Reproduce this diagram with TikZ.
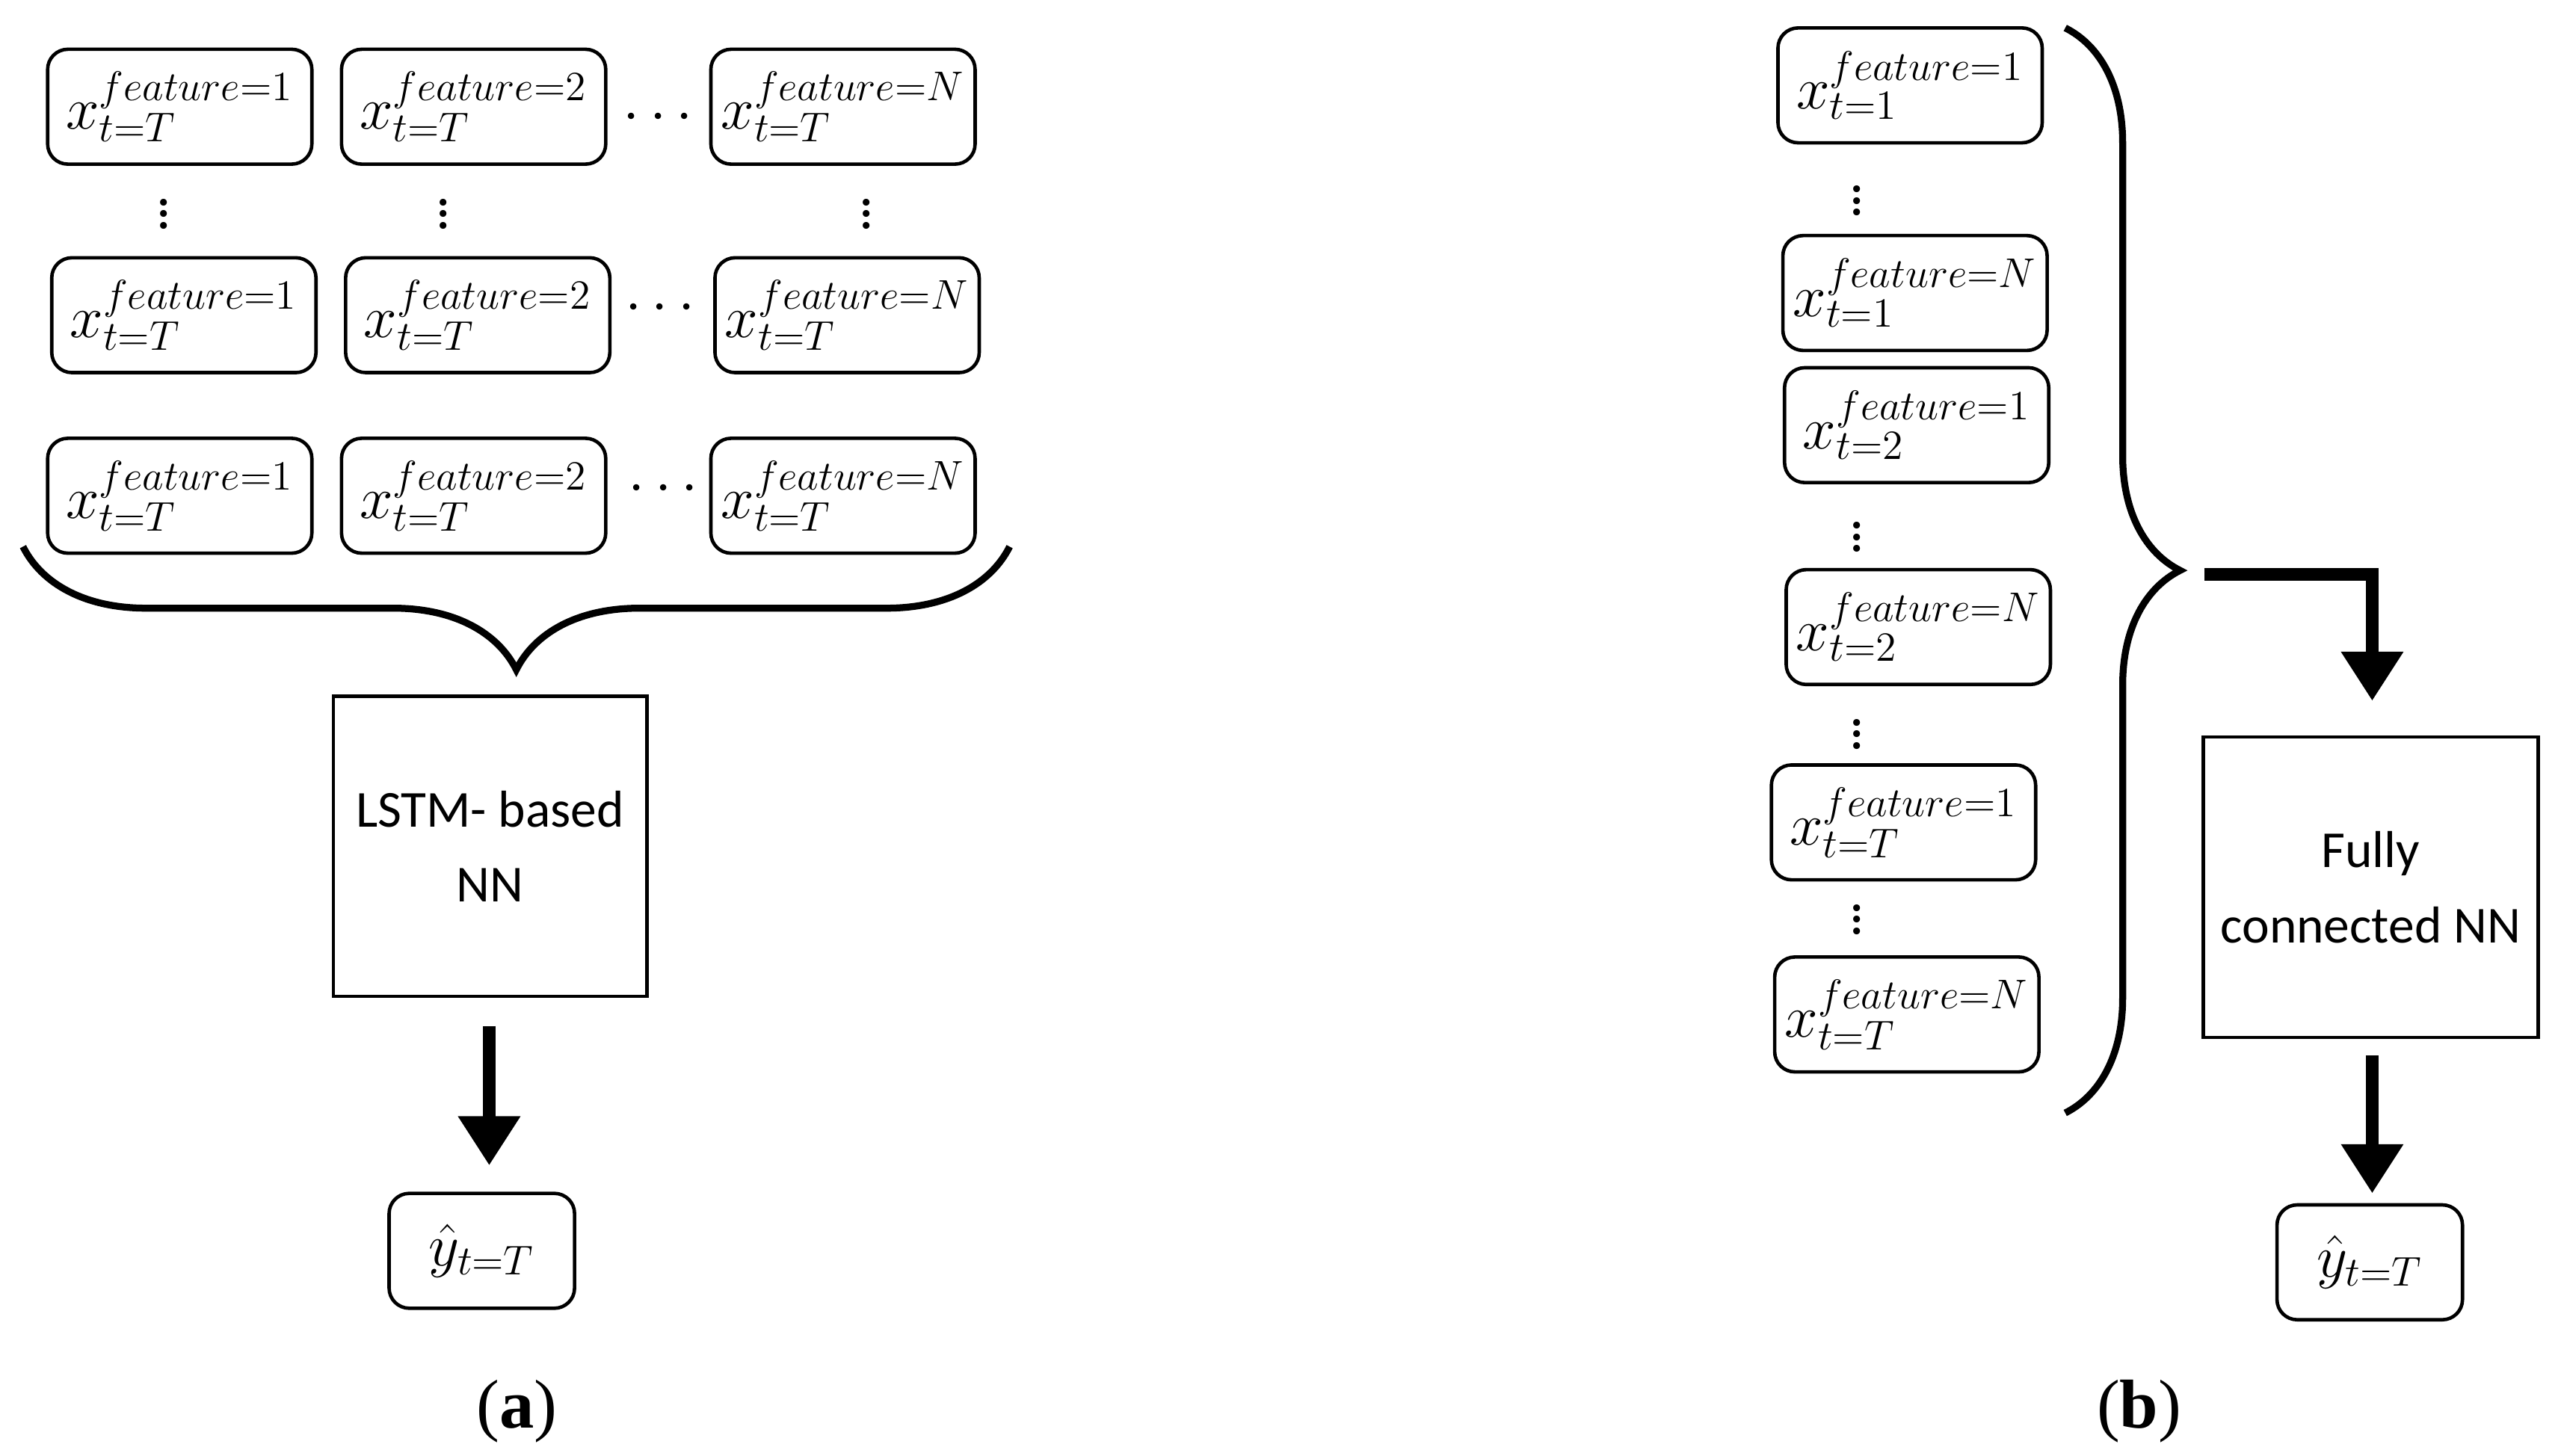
\documentclass[tikz,border=0pt]{standalone}
\usepackage{fontspec}
\setmainfont{Liberation Serif}
\newfontfamily\calfont{Carlito}
\usetikzlibrary{decorations.pathreplacing,arrows.meta}
\begin{document}
\begin{tikzpicture}[x=0.02cm,y=-0.02cm,
  fbox/.style={draw,line width=1.2pt,rounded corners=7pt,minimum width=3.22cm,minimum height=1.4cm,inner sep=0pt,font=\fontsize{20}{24}\selectfont},
  ybox/.style={draw,line width=1.2pt,rounded corners=7pt,minimum width=2.26cm,minimum height=1.4cm,inner sep=0pt,font=\fontsize{20}{24}\selectfont},
  nnbox/.style={draw,line width=1.2pt,align=center,font=\calfont\fontsize{18}{26}\selectfont,inner sep=0pt},
  txt/.style={font=\fontsize{20}{24}\selectfont},
  brc/.style={decorate,decoration={brace,amplitude=1.5cm,aspect=0.5},line width=2.4pt},
  bigarrow/.style={line width=4.5pt,-{Triangle[length=0.6cm,width=0.72cm]}}]
\useasboundingbox (0,0) rectangle (1560,887);
% (a)
\node[fbox] (a11) at (109.5,65) {$x_{t=T}^{feature=1}$};
\node[fbox] (a12) at (288.5,65) {$x_{t=T}^{feature=2}$};
\node[fbox] (a13) at (513.5,65) {$x_{t=T}^{feature=N}$};
\node[fbox] (a21) at (112,192) {$x_{t=T}^{feature=1}$};
\node[fbox] (a22) at (291,192) {$x_{t=T}^{feature=2}$};
\node[fbox] (a23) at (516,192) {$x_{t=T}^{feature=N}$};
\node[fbox] (a31) at (109.5,302) {$x_{t=T}^{feature=1}$};
\node[fbox] (a32) at (288.5,302) {$x_{t=T}^{feature=2}$};
\node[fbox] (a33) at (513.5,302) {$x_{t=T}^{feature=N}$};
\node[txt] (d1) at (401,72) {$\cdots$};
\node[txt] (d2) at (402,188) {$\cdots$};
\node[txt] (d3) at (404,298) {$\cdots$};
\node[txt] (v1) at (100,125) {$\vdots$};
\node[txt] (v2) at (270,125) {$\vdots$};
\node[txt] (v3) at (528,125) {$\vdots$};
\coordinate (braR) at (615,333);
\coordinate (braL) at (14,333);
\draw[brc] (braR) -- (braL);
\node[nnbox,minimum width=3.82cm,minimum height=3.66cm] (lstm) at (298.5,515.5) {LSTM- based\\NN};
\node[ybox] (ya) at (293.5,762) {$\hat{y}_{t=T}$};
\coordinate (aa1) at (298,625);
\coordinate (aa2) at (298,710);
\draw[bigarrow] (aa1) -- (aa2);
\node[font=\fontsize{24}{28}\selectfont] (la) at (315,860) {(\textbf{a})};
% (b)
\node[fbox] (b1) at (1163.5,52) {$x_{t=1}^{feature=1}$};
\node[fbox] (b2) at (1166.5,178.5) {$x_{t=1}^{feature=N}$};
\node[fbox] (b3) at (1167.5,259) {$x_{t=2}^{feature=1}$};
\node[fbox] (b4) at (1168.5,382) {$x_{t=2}^{feature=N}$};
\node[fbox] (b5) at (1159.5,501) {$x_{t=T}^{feature=1}$};
\node[fbox] (b6) at (1161.5,618) {$x_{t=T}^{feature=N}$};
\node[txt] (bv1) at (1131,117) {$\vdots$};
\node[txt] (bv2) at (1131,322) {$\vdots$};
\node[txt] (bv3) at (1131,442) {$\vdots$};
\node[txt] (bv4) at (1131,555) {$\vdots$};
\coordinate (brT) at (1258,17);
\coordinate (brB) at (1258,678);
\draw[brc,decoration={amplitude=1.4cm}] (brT) -- (brB);
\coordinate (ba0) at (1343,350);
\coordinate (ba1) at (1445,350);
\coordinate (ba2) at (1445,427);
\draw[bigarrow] (ba0) -- (ba1) -- (ba2);
\node[nnbox,minimum width=4.08cm,minimum height=3.66cm] (fc) at (1444,540.5) {Fully\\connected NN};
\node[ybox] (yb) at (1443.5,769) {$\hat{y}_{t=T}$};
\coordinate (bb1) at (1445,643);
\coordinate (bb2) at (1445,727);
\draw[bigarrow] (bb1) -- (bb2);
\node[font=\fontsize{24}{28}\selectfont] (lb) at (1303,860) {(\textbf{b})};
\end{tikzpicture}
\end{document}
